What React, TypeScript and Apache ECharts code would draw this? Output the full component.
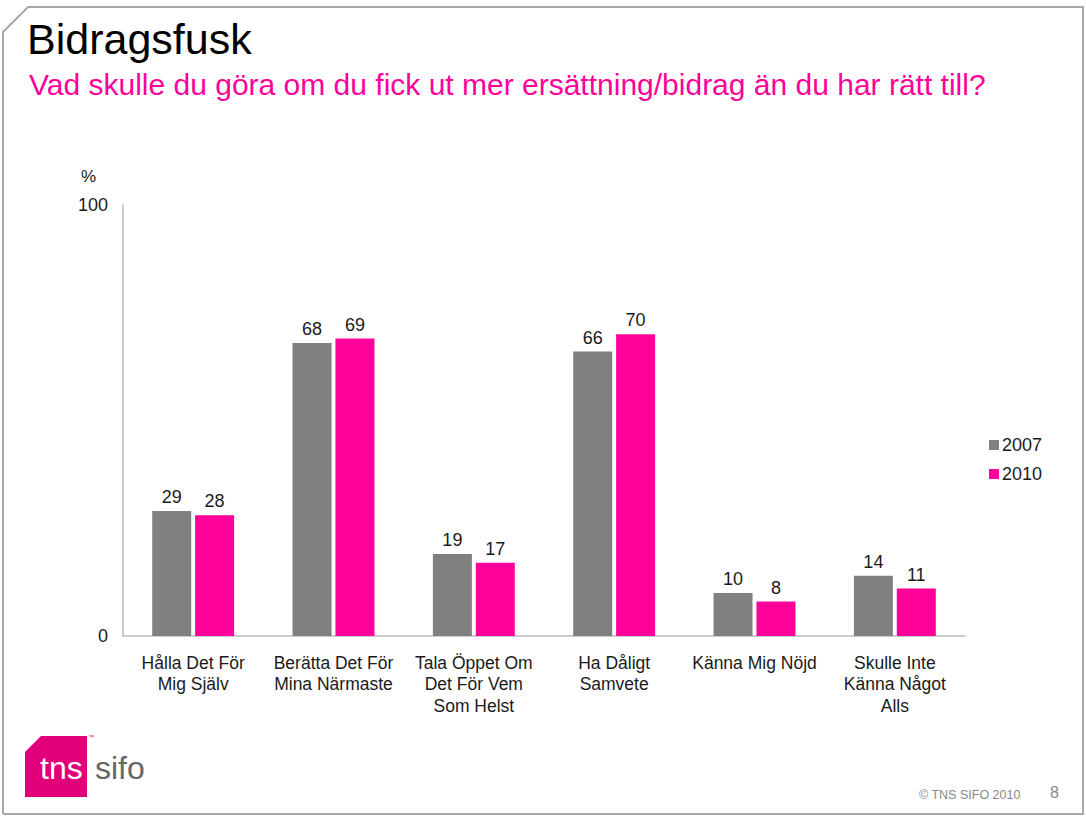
import React, { useEffect, useRef } from "react";
import * as echarts from "echarts";

const categories = [
  "Hålla Det För\nMig Själv",
  "Berätta Det För\nMina Närmaste",
  "Tala Öppet Om\nDet För Vem\nSom Helst",
  "Ha Dåligt\nSamvete",
  "Känna Mig Nöjd",
  "Skulle Inte\nKänna Något\nAlls",
];
const values2007 = [29, 68, 19, 66, 10, 14];
const values2010 = [28, 69, 17, 70, 8, 11];
const seriesNames = ["2007", "2010"];
const yTicks = [0, 100];

const GRAY = "#808080";
const PINK = "#FF0099";
const FONT = "Liberation Sans, Arial, sans-serif";

export default function App() {
  const ref = useRef<HTMLDivElement>(null);
  useEffect(() => {
    if (!ref.current) return;
    const chart = echarts.init(ref.current, null, { renderer: "svg" });
    const label = {
      show: true,
      position: "top",
      distance: 5,
      color: "#1a1a1a",
      fontSize: 18,
      fontFamily: FONT,
    };
    chart.setOption({
      animation: false,
      backgroundColor: "#fff",
      textStyle: { fontFamily: FONT },
      grid: { left: 123, top: 205, right: 121, bottom: 181, containLabel: false },
      legend: {
        orient: "vertical",
        left: 984,
        top: 431,
        itemWidth: 10,
        itemHeight: 10,
        itemGap: 11,
        icon: "rect",
        data: seriesNames,
        textStyle: { fontSize: 18, color: "#1a1a1a", fontFamily: FONT, padding: [0, 0, 0, -2] },
      },
      xAxis: {
        type: "category",
        data: categories,
        axisLine: { lineStyle: { color: "#bdbdbd", width: 1.5 } },
        axisTick: { show: false },
        axisLabel: {
          interval: 0,
          color: "#1a1a1a",
          fontSize: 17.5,
          fontFamily: FONT,
          lineHeight: 21.5,
          margin: 16,
        },
      },
      yAxis: {
        type: "value",
        min: yTicks[0],
        max: yTicks[1],
        interval: 100,
        splitLine: { show: false },
        axisTick: { show: false },
        axisLine: { show: true, lineStyle: { color: "#bdbdbd", width: 1.5 } },
        axisLabel: { color: "#1a1a1a", fontSize: 18, fontFamily: FONT, margin: 15 },
      },
      series: [
        {
          name: seriesNames[0],
          type: "bar",
          data: values2007,
          itemStyle: { color: GRAY },
          barWidth: 39,
          barGap: "10%",
          label,
        },
        {
          name: seriesNames[1],
          type: "bar",
          data: values2010,
          itemStyle: { color: PINK },
          barWidth: 39,
          label,
        },
      ],
      graphic: [
        {
          type: "polyline",
          shape: {
            points: [
              [3, 814],
              [3, 32],
              [28, 7],
              [1083, 7],
              [1083, 814],
              [3, 814],
            ],
          },
          style: { stroke: "#a8a8a8", lineWidth: 2, fill: null },
          silent: true,
        },
        {
          type: "text",
          left: 27,
          top: 17,
          style: { text: "Bidragsfusk", fontSize: 43, fill: "#000", fontFamily: FONT },
        },
        {
          type: "text",
          left: 29,
          top: 69,
          style: {
            text: "Vad skulle du göra om du fick ut mer ersättning/bidrag än du har rätt till?",
            fontSize: 30,
            fill: PINK,
            fontFamily: FONT,
          },
        },
        {
          type: "text",
          left: 81,
          top: 168,
          style: { text: "%", fontSize: 17, fill: "#1a1a1a", fontFamily: FONT },
        },
        {
          type: "polygon",
          shape: {
            points: [
              [25, 797],
              [25, 752],
              [41, 736],
              [87, 736],
              [87, 797],
            ],
          },
          style: { fill: "#E2007A" },
        },
        {
          type: "text",
          left: 40,
          top: 752,
          style: { text: "tns", fontSize: 32, fill: "#fff", fontFamily: FONT },
        },
        {
          type: "text",
          left: 95,
          top: 752,
          style: { text: "sifo", fontSize: 32, fill: "#666", fontFamily: FONT },
        },
        {
          type: "text",
          left: 88,
          top: 734,
          style: { text: "™", fontSize: 6, fill: "#E2007A", fontFamily: FONT },
        },
        {
          type: "text",
          left: 919,
          top: 788,
          style: { text: "© TNS SIFO 2010", fontSize: 12.5, fill: "#888", fontFamily: FONT },
        },
        {
          type: "text",
          left: 1050,
          top: 784,
          style: { text: "8", fontSize: 16, fill: "#888", fontFamily: FONT },
        },
      ],
    });
    return () => chart.dispose();
  }, []);
  return (
    <div
      ref={ref}
      style={{ position: "fixed", left: 0, top: 0, width: 1086, height: 817 }}
    />
  );
}
